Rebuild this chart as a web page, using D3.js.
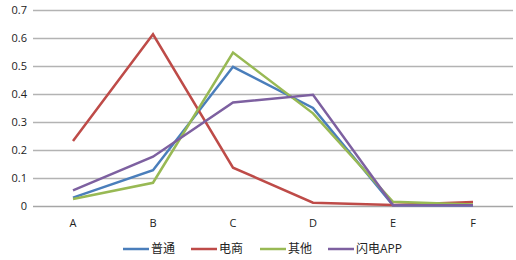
<!DOCTYPE html>
<html>
<head>
<meta charset="utf-8">
<script src="https://cdn.jsdelivr.net/npm/d3@7"></script>
<style>
  body { margin: 0; background: #fff; }
  text { font-family: "Open Sans", "Noto Sans CJK SC", sans-serif; fill: #222; }
</style>
</head>
<body>
<div id="container"></div>
<script>
/* DATA */
const categories = ["A", "B", "C", "D", "E", "F"];
const seriesNames = ["普通", "电商", "其他", "闪电APP"];
const putong = [0.03, 0.128, 0.497, 0.35, 0.003, 0.002];
const dianshang = [0.232, 0.613, 0.137, 0.012, 0.004, 0.014];
const qita = [0.025, 0.083, 0.548, 0.331, 0.015, 0.005];
const shandian = [0.056, 0.176, 0.37, 0.397, 0.003, 0.003];
const yTicks = [0, 0.1, 0.2, 0.3, 0.4, 0.5, 0.6, 0.7];
const colors = ["#4a7ebb", "#be4b48", "#98b954", "#7d60a0"];

const width = 516;
const height = 260;
const margin = { top: 10, right: 3, bottom: 54, left: 33 };

const series = [putong, dianshang, qita, shandian].map((values, i) => ({
  name: seriesNames[i],
  color: colors[i],
  values: values
}));

const svg = d3.select("#container").append("svg")
  .attr("width", width)
  .attr("height", height);

/* SCALES */
const xScale = d3.scaleBand()
  .domain(categories)
  .range([margin.left, width - margin.right]);

const yScale = d3.scaleLinear()
  .domain([0, 0.7])
  .range([height - margin.bottom, margin.top]);

// gridlines
svg.append("g")
  .selectAll("line")
  .data(yTicks)
  .join("line")
  .attr("x1", margin.left)
  .attr("x2", width - margin.right)
  .attr("y1", d => yScale(d) + 0.5)
  .attr("y2", d => yScale(d) + 0.5)
  .attr("stroke", d => d === 0 ? "#a6a6a6" : "#b3b3b3")
  .attr("stroke-width", 1.5);

// y axis labels
const yAxis = d3.axisLeft(yScale)
  .tickValues(yTicks)
  .tickFormat(d => d === 0 ? "0" : d3.format(".1f")(d))
  .tickSize(0)
  .tickPadding(6);

svg.append("g")
  .attr("transform", `translate(${margin.left}, 0)`)
  .call(yAxis)
  .call(g => g.select(".domain").remove())
  .call(g => g.selectAll("text")
    .style("font-family", "'Open Sans', sans-serif")
    .style("font-size", "11px")
    .attr("fill", "#222"));

// x axis labels
const xAxis = d3.axisBottom(xScale).tickSize(0).tickPadding(13);
svg.append("g")
  .attr("transform", `translate(0, ${height - margin.bottom})`)
  .call(xAxis)
  .call(g => g.select(".domain").remove())
  .call(g => g.selectAll("text")
    .style("font-family", "'Open Sans', sans-serif")
    .style("font-size", "11px")
    .attr("fill", "#222"));

// lines
const line = d3.line()
  .x((d, i) => xScale(categories[i]) + xScale.bandwidth() / 2)
  .y(d => yScale(d));

svg.append("g")
  .selectAll("path")
  .data(series)
  .join("path")
  .attr("d", d => line(d.values))
  .attr("fill", "none")
  .attr("stroke", d => d.color)
  .attr("stroke-width", 2.5)
  .attr("stroke-linejoin", "miter");

// legend
const legendX = [123, 191, 260, 328];
const legend = svg.append("g")
  .selectAll("g")
  .data(series)
  .join("g")
  .attr("transform", (d, i) => `translate(${legendX[i]}, 249)`);

legend.append("line")
  .attr("x1", 0)
  .attr("x2", 26)
  .attr("stroke", d => d.color)
  .attr("stroke-width", 2.5);

legend.append("text")
  .attr("x", 28)
  .attr("y", 0)
  .attr("dy", "0.35em")
  .style("font-size", "12px")
  .style("font-family", "'Open Sans', 'Noto Sans CJK SC', sans-serif")
  .text(d => d.name);
</script>
</body>
</html>
